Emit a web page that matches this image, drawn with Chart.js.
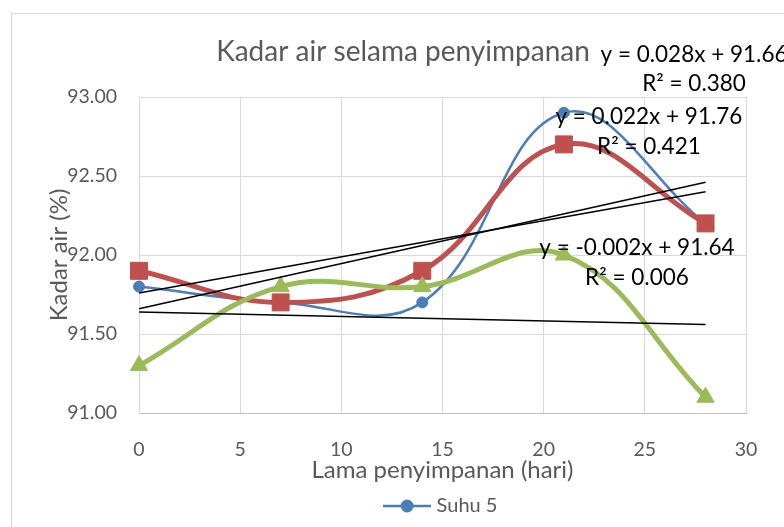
<!DOCTYPE html>
<html>
<head>
<meta charset="utf-8">
<script src="https://cdn.jsdelivr.net/npm/chart.js@4.4.1/dist/chart.umd.min.js"></script>
<style>
  html, body { margin: 0; padding: 0; background: #fff; }
  canvas { display: block; }
</style>
</head>
<body>
<canvas id="chart" width="784" height="527"></canvas>
<script>
// values
const days = [0, 7, 14, 21, 28];
const suhu5 = [91.8, 91.7, 91.7, 92.9, 92.2];
const seriesRed = [91.9, 91.7, 91.9, 92.7, 92.2];
const seriesGreen = [91.3, 91.8, 91.8, 92.0, 91.1];

// linear trendlines, start and end values
const trendDays = [0, 28];
const trendBlue = [91.66, 92.46];
const trendRed = [91.76, 92.40];
const trendGreen = [91.64, 91.56];

const trendText = [
  ["y = 0.028x + 91.66", "R² = 0.380"],
  ["y = 0.022x + 91.76", "R² = 0.421"],
  ["y = -0.002x + 91.64", "R² = 0.006"],
];

const palette = {
  blue: "#4a7ebb",
  red: "#c0504d",
  green: "#9bbb59",
  text: "#595959",
  grid: "#d9d9d9",
  axis: "#bfbfbf",
};

// where each equation block sits, in data units (x, y of first line)
const trendTextAt = [
  [27.43, 93.27],
  [25.2, 92.873],
  [24.61, 92.044],
];

Chart.defaults.font.family = "Lato, 'Open Sans', sans-serif";
Chart.defaults.color = palette.text;

function points(xs, ys) {
  return xs.map((x, i) => ({ x, y: ys[i] }));
}

function legendMarker() {
  const c = document.createElement("canvas");
  c.width = 48;
  c.height = 16;
  const g = c.getContext("2d");
  g.strokeStyle = palette.blue;
  g.lineWidth = 2.5;
  g.beginPath();
  g.moveTo(0, 8);
  g.lineTo(48, 8);
  g.stroke();
  g.fillStyle = palette.blue;
  g.beginPath();
  g.arc(24, 8, 6.5, 0, Math.PI * 2);
  g.fill();
  return c;
}
const marker = legendMarker();

const frame = {
  id: "frame",
  beforeDraw(chart) {
    const ctx = chart.ctx;
    ctx.save();
    ctx.strokeStyle = palette.grid;
    ctx.lineWidth = 1;
    ctx.strokeRect(11.5, 13.5, 900, 700);
    ctx.restore();
  },
};

const equations = {
  id: "equations",
  afterDatasetsDraw(chart) {
    const { ctx, scales } = chart;
    ctx.save();
    ctx.fillStyle = "#000";
    ctx.font = "22.5px Lato, 'Open Sans', sans-serif";
    ctx.textAlign = "center";
    ctx.textBaseline = "middle";
    trendText.forEach((lines, i) => {
      const x = scales.x.getPixelForValue(trendTextAt[i][0]);
      const y = scales.y.getPixelForValue(trendTextAt[i][1]);
      lines.forEach((line, j) => ctx.fillText(line, x, y + j * 29.5));
    });
    ctx.restore();
  },
};

const trendStyle = {
  borderColor: "#000",
  borderWidth: 1.5,
  pointRadius: 0,
  tension: 0,
  order: 0,
  clip: false,
};

new Chart(document.querySelector("#chart"), {
  type: "line",
  data: {
    datasets: [
      {
        label: "Suhu 5",
        data: points(days, suhu5),
        borderColor: palette.blue,
        backgroundColor: palette.blue,
        borderWidth: 2.5,
        pointRadius: 5.5,
        pointBorderWidth: 1,
        tension: 0.4,
        order: 3,
        clip: false,
      },
      {
        label: "Seri 2",
        data: points(days, seriesRed),
        borderColor: palette.red,
        backgroundColor: palette.red,
        borderWidth: 5,
        pointStyle: "rect",
        pointRadius: 12,
        pointBorderWidth: 1,
        tension: 0.4,
        order: 2,
        clip: false,
      },
      {
        label: "Seri 3",
        data: points(days, seriesGreen),
        borderColor: palette.green,
        backgroundColor: palette.green,
        borderWidth: 5,
        pointStyle: "triangle",
        pointRadius: 10,
        pointBorderWidth: 1,
        tension: 0.4,
        order: 1,
        clip: false,
      },
      { label: "Trend 1", data: points(trendDays, trendBlue), ...trendStyle },
      { label: "Trend 2", data: points(trendDays, trendRed), ...trendStyle },
      { label: "Trend 3", data: points(trendDays, trendGreen), ...trendStyle },
    ],
  },
  options: {
    responsive: false,
    animation: false,
    events: [],
    layout: { padding: { left: 60, right: 38, top: 0, bottom: 1 } },
    plugins: {
      title: {
        display: true,
        text: "Kadar air selama penyimpanan",
        color: palette.text,
        font: { size: 28, weight: "normal" },
        padding: { top: 35.2, bottom: 28.2 },
      },
      legend: {
        position: "bottom",
        fullSize: false,
        labels: {
          usePointStyle: true,
          pointStyleWidth: 39,
          padding: 11.6,
          color: palette.text,
          font: { size: 20 },
          generateLabels(chart) {
            return Chart.defaults.plugins.legend.labels
              .generateLabels(chart)
              .filter((item) => item.text === "Suhu 5")
              .map((item) => ({ ...item, pointStyle: marker, rotation: 0 }));
          },
        },
      },
      tooltip: { enabled: false },
    },
    scales: {
      x: {
        type: "linear",
        min: 0,
        max: 30,
        ticks: { stepSize: 5, padding: 25.3, color: palette.text, font: { size: 19.5 } },
        grid: { color: palette.grid, drawTicks: false },
        border: { color: palette.axis },
        title: {
          display: true,
          text: "Lama penyimpanan (hari)",
          color: palette.text,
          font: { size: 24 },
          padding: { top: 0, bottom: 0 },
        },
        afterFit(scale) { scale.height = 71.4; },
      },
      y: {
        min: 91,
        max: 93,
        ticks: {
          stepSize: 0.5,
          padding: 22,
          color: palette.text,
          font: { size: 19.5 },
          callback: (value) => Number(value).toFixed(2),
        },
        grid: { color: palette.grid, drawTicks: false },
        border: { color: palette.grid },
        title: {
          display: true,
          text: "Kadar air (%)",
          color: palette.text,
          font: { size: 24 },
          padding: { top: -15.4, bottom: 0 },
        },
        afterFit(scale) { scale.width = 79; },
      },
    },
  },
  plugins: [frame, equations],
});
</script>
</body>
</html>
